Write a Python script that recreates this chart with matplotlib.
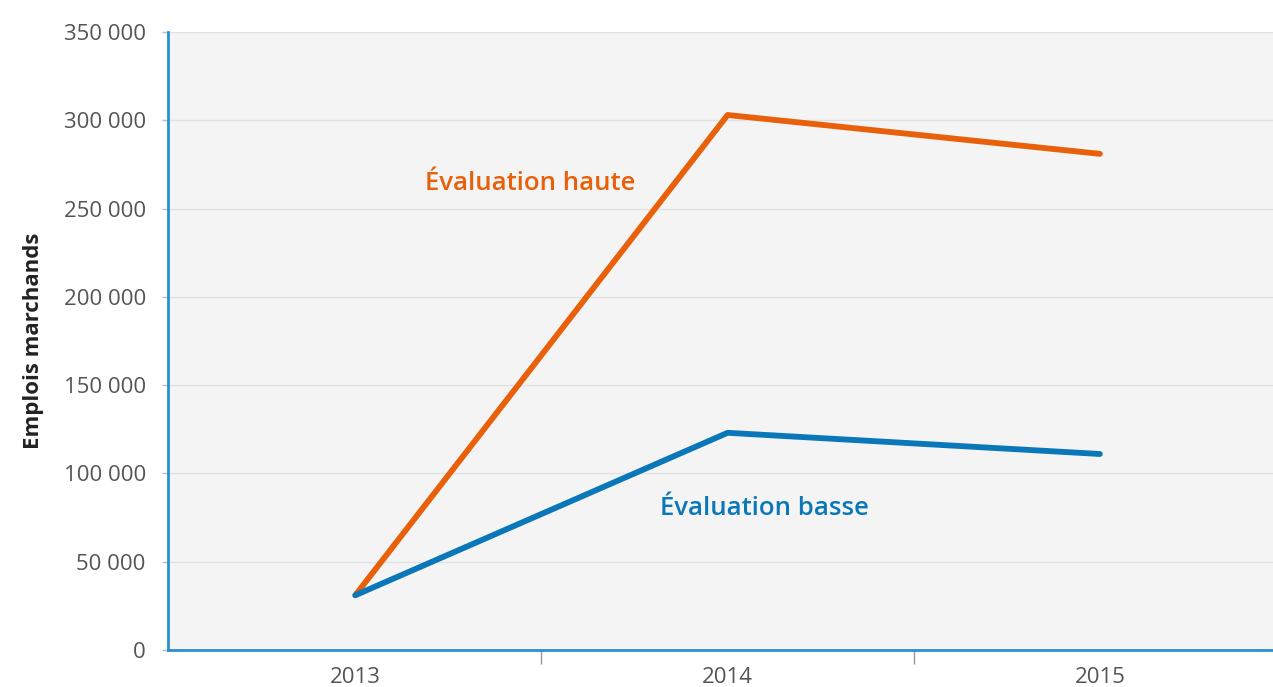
import matplotlib.pyplot as plt
from matplotlib.ticker import FuncFormatter, FixedLocator

# Data
years = ['2013', '2014', '2015']
haute = [31000, 303000, 281000]
basse = [31000, 123000, 111000]
y_ticks = [0, 50000, 100000, 150000, 200000, 250000, 300000, 350000]

plt.rcParams['font.family'] = ['Open Sans', 'DejaVu Sans']

fig = plt.figure(figsize=(12.73, 6.87), dpi=100)
ax = fig.add_axes([0.132, 0.0539, 0.868, 0.8995])
ax.set_facecolor('#f4f4f4')

x = list(range(len(years)))
ax.plot(x, haute, color='#e8600a', lw=4.2, solid_capstyle='round', zorder=3)
ax.plot(x, basse, color='#0a77b8', lw=4.2, solid_capstyle='round', zorder=3)

ax.text(0.47, 264000, 'Évaluation haute', color='#e8600a', fontsize=18.5,
        fontweight='semibold', ha='center', va='center')
ax.text(1.1, 80000, 'Évaluation basse', color='#0a77b8', fontsize=18.5,
        fontweight='semibold', ha='center', va='center')

ax.set_xlim(-0.503, 2.465)
ax.set_ylim(0, 350000)
ax.set_yticks(y_ticks)
ax.yaxis.set_major_formatter(FuncFormatter(lambda v, p: f'{int(v):,}'.replace(',', ' ')))
ax.grid(axis='y', color='#e2e2e2', lw=1)
ax.set_axisbelow(True)

ax.set_xticks(x)
ax.set_xticklabels(years)
ax.xaxis.set_minor_locator(FixedLocator([0.5, 1.5]))
ax.tick_params(axis='x', which='major', length=0, pad=12, labelsize=16, labelcolor='#555555')
ax.tick_params(axis='x', which='minor', length=10, width=1, color='#999999')
ax.tick_params(axis='y', length=4, width=1, color='#bbbbbb', pad=12, labelsize=16, labelcolor='#555555')

ax.set_ylabel('Emplois marchands', fontsize=16, fontweight='bold', color='#222222', labelpad=14)

for s in ['top', 'right']:
    ax.spines[s].set_visible(False)
for s in ['left', 'bottom']:
    ax.spines[s].set_color('#2a8fcf')
    ax.spines[s].set_linewidth(2)

fig.savefig('out.png', dpi=100)
